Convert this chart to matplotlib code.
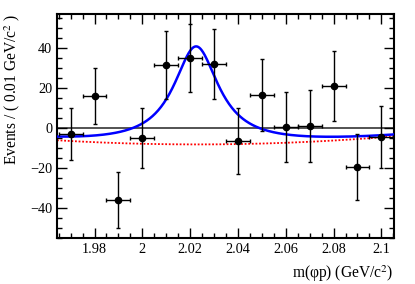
import numpy as np
import matplotlib
matplotlib.use("Agg")
import matplotlib.pyplot as plt
from matplotlib.ticker import MultipleLocator

plt.rcParams['font.family'] = ['Liberation Serif', 'DejaVu Serif']
plt.rcParams['mathtext.fontset'] = 'stix'

# data points
mass = [1.97, 1.98, 1.99, 2.00, 2.01, 2.02, 2.03, 2.04, 2.05, 2.06, 2.07, 2.08, 2.09, 2.10]
events = [-3.0, 16.0, -36.0, -5.0, 31.5, 35.0, 32.0, -6.5, 16.5, 0.5, 1.0, 21.0, -19.5, -4.5]
err = [12.8, 14.2, 14.0, 15.0, 16.8, 16.8, 17.5, 16.6, 18.0, 17.5, 17.8, 17.6, 16.7, 15.6]
xerr = 0.005

# fit parameters
bw_mass = 2.0225
bw_width = 0.023
bw_amp = 49.0
bkg_x = [1.965, 2.03, 2.105]
bkg_y = [-6.2, -8.2, -4.2]

xmin, xmax = 1.9643, 2.1052
ymin, ymax = -55, 57

fig = plt.figure(figsize=(4.15, 2.84), dpi=100)
ax = fig.add_axes([0.1373, 0.162, 0.8117, 0.789])

xx = np.linspace(xmin, xmax, 600)
bcoef = np.polyfit(bkg_x, bkg_y, 2)
bkg = np.polyval(bcoef, xx)
hw = bw_width / 2
sig = bw_amp * hw**2 / ((xx - bw_mass)**2 + hw**2)

ax.axhline(0, color='#444444', lw=1.3, zorder=1)
ax.plot(xx, bkg, color='red', lw=1.3, ls=(0, (1, 1)), zorder=2)
ax.plot(xx, bkg + sig, color='#0000ff', lw=1.8, zorder=3)
ax.errorbar(mass, events, yerr=err, xerr=xerr, fmt='o', color='black',
            ms=4.5, elinewidth=1.0, capsize=1.5, capthick=1.0, zorder=4)

ax.set_xlim(xmin, xmax)
ax.set_ylim(ymin, ymax)
ax.xaxis.set_major_locator(MultipleLocator(0.02))
ax.xaxis.set_minor_locator(MultipleLocator(0.005))
ax.yaxis.set_major_locator(MultipleLocator(20))
ax.yaxis.set_minor_locator(MultipleLocator(5))
ax.set_xticks([1.98, 2.0, 2.02, 2.04, 2.06, 2.08, 2.1])
ax.set_xticklabels(['1.98', '2', '2.02', '2.04', '2.06', '2.08', '2.1'])
ax.tick_params(which='both', direction='in', top=True, right=True, labelsize=10.3, width=1.0)
ax.tick_params(which='major', length=7)
ax.tick_params(which='minor', length=3.5)
for s in ax.spines.values():
    s.set_linewidth(1.5)

ax.set_ylabel(r'Events / ( 0.01 GeV/c$^{2}$ )', fontsize=11.2, ha='right')
ax.yaxis.set_label_coords(-0.105, 1.0)
ax.set_xlabel(r'm(φp) (GeV/c$^{2}$)', fontsize=11.2, ha='right')
ax.xaxis.set_label_coords(1.0, -0.115)

fig.savefig('out.png', dpi=100)
